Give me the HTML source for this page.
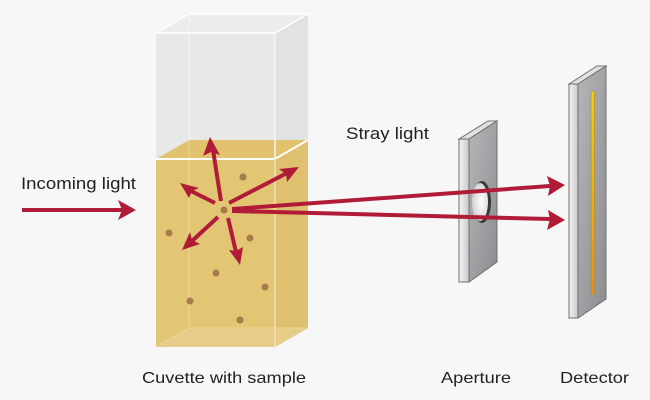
<!DOCTYPE html>
<html><head><meta charset="utf-8"><style>
html,body{margin:0;padding:0;background:#f7f7f7}
svg{display:block}
text{font-family:"Liberation Sans",sans-serif;fill:#222}
</style></head><body>
<svg width="650" height="400" viewBox="0 0 650 400" xmlns="http://www.w3.org/2000/svg">
<defs>
<linearGradient id="pl" x1="0" y1="0" x2="1" y2="1"><stop offset="0" stop-color="#b5b6b8"/><stop offset="1" stop-color="#8c8d90"/></linearGradient>
<linearGradient id="ed" x1="0" y1="0" x2="1" y2="0"><stop offset="0" stop-color="#f4f4f4"/><stop offset="1" stop-color="#c9c9cb"/></linearGradient>
<linearGradient id="st" x1="0" y1="0" x2="0" y2="1"><stop offset="0" stop-color="#f5d000"/><stop offset="1" stop-color="#e8901a"/></linearGradient>
<radialGradient id="hole" cx="0.6" cy="0.5" r="0.6"><stop offset="0" stop-color="#fff"/><stop offset="1" stop-color="#d0d0d0"/></radialGradient>
</defs>
<!-- cuvette upper (empty) -->
<polygon points="156,33 189,14 308,14 275,33" fill="#ececec" stroke="#fff" stroke-width="1.5"/>
<rect x="156" y="33" width="119" height="126" fill="#e8e8e8"/>
<polygon points="275,33 308,14 308,140 275,159" fill="#e2e2e2"/>
<line x1="189" y1="14" x2="189" y2="140" stroke="#f3f3f3"/>
<!-- liquid -->
<polygon points="156,159 189,140 308,140 275,159" fill="#e2c26e"/>
<rect x="156" y="159" width="119" height="188" fill="#e3c674"/>
<polygon points="275,159 308,140 308,328 275,347" fill="#dfc06e"/>
<polygon points="156,347 189,328 308,328 275,347" fill="#e6cc88"/>
<line x1="189" y1="140" x2="189" y2="328" stroke="#ecd69a" stroke-width="1"/>
<line x1="189" y1="328" x2="308" y2="328" stroke="#ecd69a"/>
<line x1="156" y1="347" x2="189" y2="328" stroke="#ecd69a"/>
<polyline points="156,159 275,159 308,140" fill="none" stroke="#fff" stroke-width="2"/>
<line x1="275" y1="159" x2="275" y2="347" stroke="#f1e2b8" stroke-width="1.5"/>
<polyline points="156,33 275,33 308,14" fill="none" stroke="#fff" stroke-width="1.5"/>
<line x1="275" y1="33" x2="275" y2="159" stroke="#f5f5f5" stroke-width="1.5"/>
<!-- dots -->
<g fill="#a87a4c">
<circle cx="243" cy="177" r="3.5"/><circle cx="169" cy="233" r="3.5"/><circle cx="250" cy="238" r="3.5"/>
<circle cx="216" cy="273" r="3.5"/><circle cx="265" cy="287" r="3.5"/><circle cx="190" cy="301" r="3.5"/>
<circle cx="240" cy="320" r="3.5"/><circle cx="224" cy="210" r="3.5"/>
</g>
<!-- aperture -->
<polygon points="459,139 488,121 497,121 469,139" fill="#e0e0e0" stroke="#6f6f71" stroke-width="1"/>
<polygon points="469,139 497,121 497,262 469,282" fill="url(#pl)" stroke="#6f6f71" stroke-width="1"/>
<rect x="459" y="139" width="10" height="143" fill="url(#ed)" stroke="#6f6f71" stroke-width="1"/>
<ellipse cx="482" cy="202" rx="9" ry="21" fill="#3a3a3a"/>
<ellipse cx="480" cy="202" rx="8" ry="19" fill="url(#hole)"/>
<!-- arrows -->
<g stroke="#b01c38" stroke-width="4" fill="#b01c38" stroke-linecap="butt">
<line x1="22" y1="210" x2="122" y2="210"/>
<line x1="221" y1="201" x2="213" y2="150"/>
<line x1="215" y1="203" x2="191" y2="191"/>
<line x1="229" y1="203" x2="287" y2="173"/>
<line x1="218" y1="217" x2="192" y2="241"/>
<line x1="228" y1="218" x2="236" y2="252"/>
<line x1="232" y1="209" x2="550" y2="186"/>
<line x1="232" y1="211" x2="550" y2="219"/>
</g>
<g fill="#b01c38">
<polygon points="136,210 118,200 122,210 118,220"/>
<polygon points="210,137 203,156 211,152 220,155"/>
<polygon points="180,183 189,198 192,191 199,188"/>
<polygon points="299,167 279,169 286,174 287,182"/>
<polygon points="182,250 200,244 192,240 190,232"/>
<polygon points="240,265 243,247 236,251 229,250"/>
<polygon points="565,185 547,176 550,186 548,196"/>
<polygon points="565,220 548,210 550,219 547,230"/>
</g>
<!-- detector -->
<polygon points="569,84 597,66 606,66 578,84" fill="#e0e0e0" stroke="#6f6f71" stroke-width="1"/>
<polygon points="578,84 606,66 606,299 578,318" fill="url(#pl)" stroke="#6f6f71" stroke-width="1"/>
<rect x="569" y="84" width="9" height="234" fill="url(#ed)" stroke="#6f6f71" stroke-width="1"/>
<rect x="591" y="91" width="3.5" height="204" rx="1.5" fill="url(#st)" stroke="#a07a30" stroke-width="0.5"/>
<!-- labels -->
<text x="21" y="189" font-size="16.5" textLength="115" lengthAdjust="spacingAndGlyphs">Incoming light</text>
<text x="346" y="139" font-size="16.5" textLength="83" lengthAdjust="spacingAndGlyphs">Stray light</text>
<text x="142" y="383" font-size="16" textLength="164" lengthAdjust="spacingAndGlyphs">Cuvette with sample</text>
<text x="441" y="383" font-size="16" textLength="70" lengthAdjust="spacingAndGlyphs">Aperture</text>
<text x="560" y="383" font-size="16" textLength="69" lengthAdjust="spacingAndGlyphs">Detector</text>
</svg>
</body></html>
